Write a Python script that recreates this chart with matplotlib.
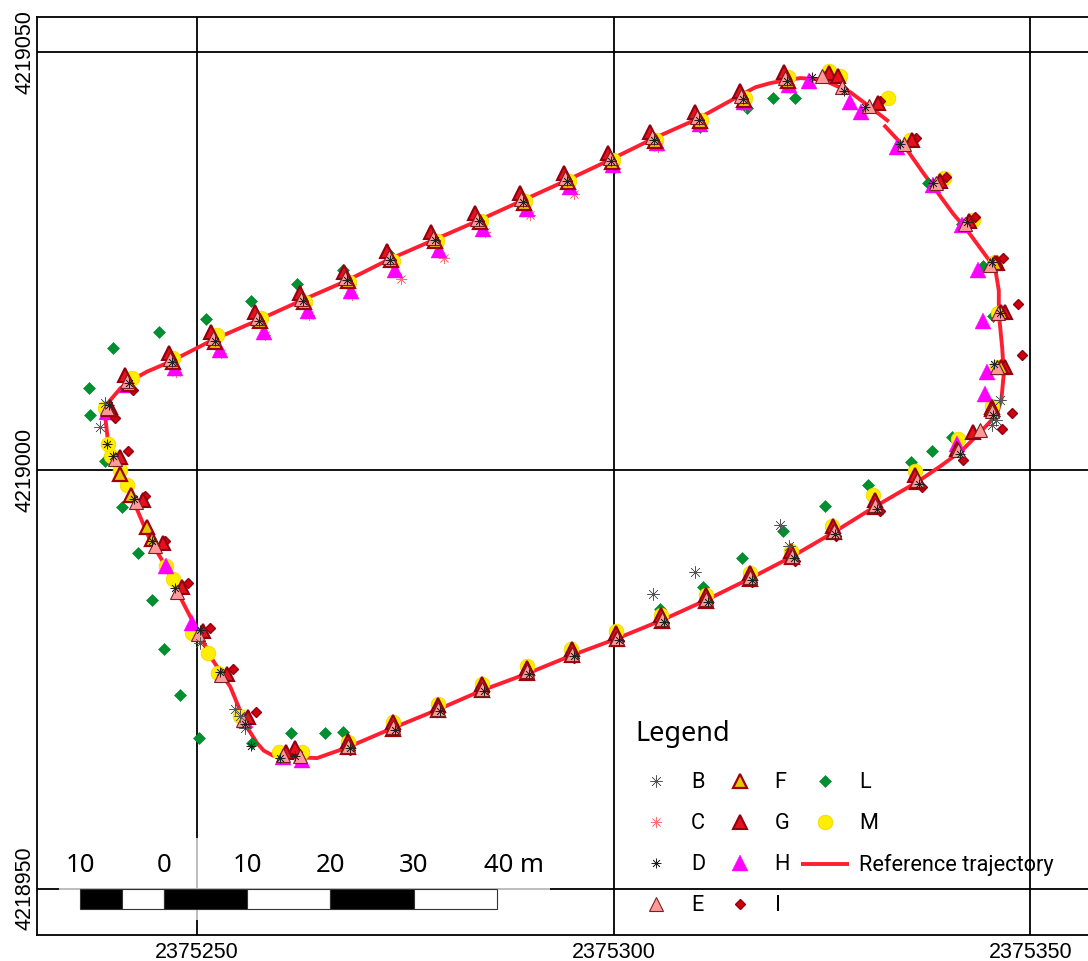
import matplotlib
matplotlib.use('Agg')
import matplotlib.pyplot as plt
from matplotlib.patches import Rectangle

# coordinates are metres relative to easting 2375000 / northing 4218900
x_ticks = [250, 300, 350]
y_ticks = [50, 100, 150]
x_tick_labels = ['2375250', '2375300', '2375350']
y_tick_labels = ['4218950', '4219000', '4219050']

traj_x = [332.4, 335.2, 337.1, 340.7, 342.4, 345.2, 345.8, 346.2, 346.2, 346.6, 346.8, 346.5, 345.9, 344.2, 341.8, 339.2,
          336.4, 331.4, 326.4, 321.4, 316.4, 311.1, 305.8, 300.4, 295.0, 289.6, 284.2, 278.9, 273.5, 268.1, 264.4,
          262.0, 259.1, 258.0, 257.2, 256.0, 254.0, 251.9, 248.0, 246.2, 244.4, 242.6, 240.8, 239.3, 239.0, 239.2, 239.6,
          240.8, 242.0, 244.0, 246.8, 251.9, 257.2, 262.5, 267.8, 273.0, 278.3, 283.6, 288.9, 294.2, 299.5, 304.6, 310.0,
          315.3, 317.0, 318.8, 321.0, 322.4, 325.1, 328.4, 330.4, 333.0]
traj_y = [141.3, 138.3, 135.6, 130.7, 128.7, 124.9, 123.9, 121.5, 118.8, 114.7, 111.6, 108.4, 106.6, 104.8, 102.4, 100.5,
          98.6, 95.7, 92.6, 89.7, 87.1, 84.5, 82.1, 79.9, 77.9, 75.7, 73.7, 71.4, 69.2, 66.9, 65.6,
          65.7, 65.9, 66.5, 67.4, 69.3, 74.1, 77.3, 84.8, 88.6, 91.6, 95.8, 100.0, 103.6, 106.3, 107.8, 108.4,
          109.8, 110.7, 111.8, 113.0, 115.6, 117.9, 120.3, 122.6, 125.2, 127.5, 129.8, 132.2, 134.6, 137.1, 139.6, 142.0,
          144.9, 145.8, 146.3, 146.7, 146.9, 146.7, 145.2, 143.7, 141.7]

e_x = [239.2, 241.6, 246.8, 251.9, 257.2, 262.5, 267.8, 273.0, 278.3, 283.6, 288.9, 294.2, 299.5, 304.6, 310.0, 315.3,
       320.6, 325.0, 327.4, 330.6, 334.8, 338.7, 342.2, 345.2, 346.1, 346.0, 345.4, 344.0, 341.3, 336.4, 331.4, 326.4,
       321.4, 316.4, 311.1, 305.8, 300.4, 295.0, 289.6, 284.2, 278.9, 273.5, 268.1, 262.4, 260.3, 255.5, 252.9, 250.1,
       247.6, 245.0, 242.7, 240.1]
e_y = [107.4, 110.7, 113.3, 115.8, 118.2, 120.5, 123.0, 125.5, 127.8, 130.1, 132.4, 134.9, 137.3, 139.8, 142.2, 144.7,
       146.9, 147.1, 145.8, 143.5, 139.0, 134.3, 129.4, 124.6, 118.8, 112.3, 107.1, 104.8, 102.4, 98.8, 95.8, 92.8,
       89.8, 87.2, 84.6, 82.2, 80.0, 78.1, 76.0, 73.9, 71.5, 69.3, 67.1, 65.9, 66.0, 70.1, 75.5, 80.4,
       85.5, 91.0, 96.2, 101.3]

f_x = [239.4, 241.8, 247.1, 252.2, 257.5, 262.8, 268.1, 273.3, 278.6, 283.9, 289.2, 294.5, 299.8, 304.9, 310.3, 315.6,
       320.9, 345.7, 346.5, 346.5, 345.4, 336.4, 331.4, 326.4, 321.4, 316.4, 311.1, 305.8, 300.4, 295.0, 289.6, 284.2,
       278.9, 273.5, 268.1, 240.8, 242.1, 244.0, 244.6]
f_y = [107.3, 110.3, 113.0, 115.4, 117.8, 120.1, 122.6, 125.1, 127.4, 129.7, 132.0, 134.5, 136.9, 139.4, 141.8, 144.3,
       146.5, 124.8, 118.9, 112.4, 107.3, 98.6, 95.6, 92.6, 89.6, 87.0, 84.4, 82.0, 79.8, 77.9, 75.8, 73.7,
       71.3, 69.1, 66.9, 99.6, 97.1, 93.2, 91.8]

g_x = [239.5, 241.3, 246.6, 251.7, 257.0, 262.3, 267.6, 272.8, 278.1, 283.4, 288.7, 294.0, 299.3, 304.4, 309.8, 315.1,
       320.4, 325.8, 326.9, 331.7, 335.8, 339.2, 342.6, 346.0, 346.9, 347.0, 345.4, 343.1, 341.2, 336.2, 331.3, 326.3,
       321.3, 316.3, 311.1, 305.7, 300.3, 295.0, 289.6, 284.2, 278.9, 273.5, 268.1, 261.8, 260.7, 256.1, 253.6, 250.7,
       248.2, 245.9, 243.5, 240.7]
g_y = [107.6, 111.4, 114.0, 116.5, 118.9, 121.2, 123.7, 126.2, 128.5, 130.8, 133.1, 135.6, 138.0, 140.5, 142.9, 145.4,
       147.6, 147.5, 147.2, 143.9, 139.5, 134.6, 129.8, 124.8, 118.9, 112.4, 107.6, 104.6, 102.6, 99.4, 96.5, 93.4,
       90.4, 87.7, 85.1, 82.7, 80.5, 78.6, 76.4, 74.4, 72.0, 69.9, 67.7, 66.8, 66.3, 70.5, 75.7, 80.8,
       86.0, 91.3, 96.4, 101.6]

h_x = [239.2, 241.6, 247.4, 252.8, 258.0, 263.3, 268.5, 273.8, 279.0, 284.3, 289.6, 294.7, 299.9, 305.2, 310.3, 315.6,
       321.0, 323.4, 328.4, 329.7, 334.0, 338.3, 341.8, 343.7, 344.3, 344.8, 344.6, 341.2, 260.3, 262.6, 255.8, 249.4,
       246.3]
h_y = [107.0, 110.2, 112.2, 114.4, 116.6, 119.0, 121.4, 123.9, 126.4, 128.9, 131.3, 133.9, 136.5, 139.1, 141.4, 144.0,
       146.1, 146.5, 144.0, 142.9, 138.6, 134.1, 129.3, 123.9, 117.8, 111.7, 109.1, 103.1, 65.7, 65.4, 70.1, 81.8,
       88.6]

i_x = [240.2, 242.3, 247.0, 252.2, 257.4, 262.7, 268.0, 273.3, 278.6, 283.8, 289.1, 294.4, 299.7, 304.8, 310.2, 315.5,
       320.8, 325.4, 327.5, 332.0, 336.3, 339.9, 343.4, 346.7, 348.5, 349.0, 347.8, 346.6, 341.9, 337.0, 332.0, 326.7,
       321.8, 316.6, 311.3, 306.0, 300.6, 295.2, 289.8, 284.4, 279.2, 273.8, 268.4, 262.0, 260.6, 257.1, 254.3, 251.6,
       248.9, 246.2, 243.8, 241.7]
i_y = [106.3, 109.6, 112.9, 115.4, 117.8, 120.1, 122.6, 125.1, 127.4, 129.8, 132.1, 134.6, 137.0, 139.5, 141.9, 144.4,
       146.5, 147.1, 145.6, 144.1, 139.7, 135.1, 130.3, 125.4, 119.9, 113.8, 106.8, 104.9, 101.2, 98.0, 95.1, 92.2,
       89.2, 86.7, 84.1, 81.7, 79.6, 77.6, 75.5, 73.5, 71.1, 68.8, 66.6, 66.3, 65.8, 71.1, 76.2, 81.2,
       86.5, 91.6, 96.9, 102.3]

l_x = [237.0, 237.2, 239.0, 239.9, 241.0, 242.9, 244.6, 246.0, 248.0, 250.2, 245.4, 251.1, 256.5, 262.0, 267.5, 272.9,
       256.6, 261.3, 265.4, 267.5, 305.6, 310.7, 315.4, 320.3, 325.4, 330.5, 335.7, 338.2, 340.6, 345.4, 345.5, 344.3,
       341.8, 337.7, 316.0, 319.1, 321.8, 310.4]
l_y = [109.9, 106.6, 101.1, 114.6, 95.6, 90.1, 84.5, 78.7, 73.2, 68.0, 116.5, 118.1, 120.3, 122.3, 123.9, 126.0,
       67.4, 68.6, 68.6, 68.7, 83.4, 86.0, 89.5, 92.7, 95.7, 98.3, 101.0, 102.3, 104.0, 107.8, 118.5, 124.4,
       129.4, 134.3, 143.3, 144.5, 144.5, 141.0]

m_x = [239.0, 242.2, 247.1, 252.4, 257.7, 263.0, 268.2, 273.5, 278.8, 284.1, 289.4, 294.6, 299.9, 305.1, 310.5, 315.8,
       320.9, 325.8, 327.2, 332.9, 335.6, 339.6, 343.1, 345.8, 346.1, 346.0, 345.4, 341.3, 336.1, 331.1, 326.2, 321.3,
       316.4, 311.1, 305.7, 300.3, 294.9, 289.6, 284.2, 278.9, 273.5, 268.1, 262.6, 259.8, 255.2, 252.5, 251.3, 249.4,
       247.1, 246.3, 241.6, 240.8, 239.7, 239.3]
m_y = [107.4, 111.0, 113.4, 116.2, 118.2, 120.1, 122.5, 125.0, 127.4, 129.8, 132.2, 134.6, 137.1, 139.5, 141.9, 144.5,
       147.0, 147.8, 147.2, 144.5, 139.5, 134.9, 129.9, 124.9, 118.8, 112.3, 107.7, 103.8, 99.9, 97.0, 93.4, 90.4,
       87.7, 85.1, 82.7, 80.8, 78.7, 76.6, 74.4, 72.1, 69.9, 67.5, 66.3, 66.3, 70.6, 75.8, 78.2, 80.6,
       87.0, 88.6, 98.2, 100.0, 101.7, 103.2]

b_x = [238.4, 239.0, 304.7, 309.8, 320.0, 321.0, 345.9, 345.4, 254.6, 255.2, 255.8, 250.4, 346.4]
b_y = [105.2, 108.0, 85.2, 87.8, 93.5, 90.9, 106.0, 105.4, 71.5, 70.6, 69.2, 79.4, 108.4]

c_x = [247.5, 252.9, 258.1, 263.4, 268.6, 274.5, 279.6, 284.5, 290.0, 295.2, 300.1, 305.3, 310.5, 315.8, 321.2]
c_y = [111.8, 114.0, 116.2, 118.6, 121.0, 122.9, 125.4, 128.5, 130.5, 133.0, 136.1, 138.7, 141.0, 143.6, 145.7]

d_x = [239.4, 241.8, 247.0, 252.1, 257.4, 262.7, 268.0, 273.2, 278.5, 283.8, 289.1, 294.4, 299.7, 304.8, 310.2, 315.5,
       320.8, 323.8, 327.6, 330.2, 334.4, 338.3, 342.4, 345.4, 346.3, 345.6, 345.5, 341.5, 336.6, 331.6, 326.6,
       321.6, 316.6, 311.3, 306.0, 300.6, 295.2, 289.8, 284.4, 279.1, 273.7, 268.3, 261.8, 259.9, 255.7, 252.7, 250.3,
       247.3, 244.6, 242.4, 239.9, 239.2, 256.5]
d_y = [107.8, 110.4, 113.0, 115.5, 117.9, 120.2, 122.7, 125.2, 127.5, 129.8, 132.1, 134.6, 137.0, 139.5, 141.9, 144.4,
       146.6, 147.0, 145.3, 143.4, 139.0, 134.3, 129.7, 124.9, 118.8, 112.7, 106.6, 102.0, 98.4, 95.4, 92.4,
       89.5, 86.9, 84.3, 81.9, 79.7, 77.8, 75.7, 73.6, 71.2, 69.0, 66.8, 65.8, 65.6, 69.7, 75.9, 80.9,
       85.9, 91.6, 96.6, 101.7, 103.2, 67.1]

# scale bar
bar_edges = [236, 241, 246, 256, 266, 276, 286]
bar_labels = ['10', '0', '10', '20', '30']
bar_label_x = [236, 246, 256, 266, 276]


def marker_style(marker, size, face, edge, width):
    return dict(ls='none', marker=marker, ms=size, mfc=face, mec=edge, mew=width)


fig = plt.figure(figsize=(10.88, 9.61), dpi=100)
ax = fig.add_axes([37 / 1088, 26 / 961, 1051 / 1088, 918 / 961])
ax.set_xlim(230.8, 356.9)
ax.set_ylim(44.45, 154.2)

for x in x_ticks:
    ax.axvline(x, color='black', lw=1.3, zorder=1)
for y in y_ticks:
    ax.axhline(y, color='black', lw=1.3, zorder=1)

ax.set_xticks(x_ticks)
ax.set_xticklabels(x_tick_labels, fontsize=15.5, family='Liberation Sans')
ax.set_yticks(y_ticks)
ax.set_yticklabels(y_tick_labels, fontsize=15.5, family='Liberation Sans', rotation=90, va='center')
ax.tick_params(length=0)
ax.tick_params(axis='x', pad=5)
ax.tick_params(axis='y', pad=1)
for name, spine in ax.spines.items():
    spine.set_linewidth(1.3)
ax.spines['right'].set_visible(False)

# washed out box behind the scale bar
ax.add_patch(Rectangle((233.4, 46.2), 59.0, 9.8, fc='white', ec='none', alpha=0.72, zorder=2))

line, = ax.plot(traj_x, traj_y, color='#FF1F30', lw=2.8, zorder=3, label='Reference trajectory',
                solid_capstyle='butt', solid_joinstyle='round')

l_h, = ax.plot(l_x, l_y, zorder=4, label='L', **marker_style('D', 5.8, '#009030', '#00802A', 0.4))
m_h, = ax.plot(m_x, m_y, zorder=5, label='M', **marker_style('o', 10.5, '#FFEE00', '#F2D800', 0.6))
c_h, = ax.plot(c_x, c_y, zorder=5.5, label='C', **marker_style((8, 2, 0), 8, 'none', '#FF7070', 0.5))
h_h, = ax.plot(h_x, h_y, zorder=6, label='H', **marker_style('^', 11, '#FF00FF', '#FF00FF', 0.3))
i_h, = ax.plot(i_x, i_y, zorder=7, label='I', **marker_style('D', 5.6, '#D00010', '#900010', 1.0))
g_h, = ax.plot(g_x, g_y, zorder=8, label='G', **marker_style('^', 10.5, '#E8101C', '#900010', 1.5))
f_h, = ax.plot(f_x, f_y, zorder=9, label='F', **marker_style('^', 10.5, '#E6C800', '#A00008', 1.6))
e_h, = ax.plot(e_x, e_y, zorder=10, label='E', **marker_style('^', 10, '#FF9A9A', '#7A2020', 0.8))
b_h, = ax.plot(b_x, b_y, zorder=11, label='B', **marker_style((8, 2, 0), 9, 'none', '#555555', 0.4))
d_h, = ax.plot(d_x, d_y, zorder=12, label='D', **marker_style((8, 2, 0), 7, 'none', '#222222', 0.5))

# scale bar
for i in range(len(bar_edges) - 1):
    fill = 'black' if i % 2 == 0 else 'white'
    ax.add_patch(Rectangle((bar_edges[i], 47.6), bar_edges[i + 1] - bar_edges[i], 2.4,
                           fc=fill, ec='#333333', lw=0.8, zorder=13))
for x, txt in zip(bar_label_x, bar_labels):
    ax.text(x, 52.7, txt, ha='center', va='center', fontsize=18.5, family='Noto Sans', zorder=14)
ax.text(284.4, 52.7, '40 m', ha='left', va='center', fontsize=18.5, family='Noto Sans', zorder=14)

handles = [b_h, c_h, d_h, e_h, f_h, g_h, h_h, i_h, l_h, m_h, line]
leg = ax.legend(handles=handles, ncol=3, loc='upper left', bbox_to_anchor=(632 / 1088, 1 - 720 / 961),
                bbox_transform=fig.transFigure, frameon=False, numpoints=1, title='Legend',
                prop={'family': 'Roboto', 'size': 15.7}, borderpad=0, borderaxespad=0,
                handlelength=2.2, handletextpad=0.5, columnspacing=0.49, labelspacing=0.92)
leg.set_zorder(20)
leg.get_title().set_fontsize(19.5)
leg.get_title().set_family('Noto Sans')
leg.get_title().set_position((3, 0))
leg._legend_box.align = 'left'
leg._legend_box.sep = 17.5

fig.savefig('out.png', dpi=100)
